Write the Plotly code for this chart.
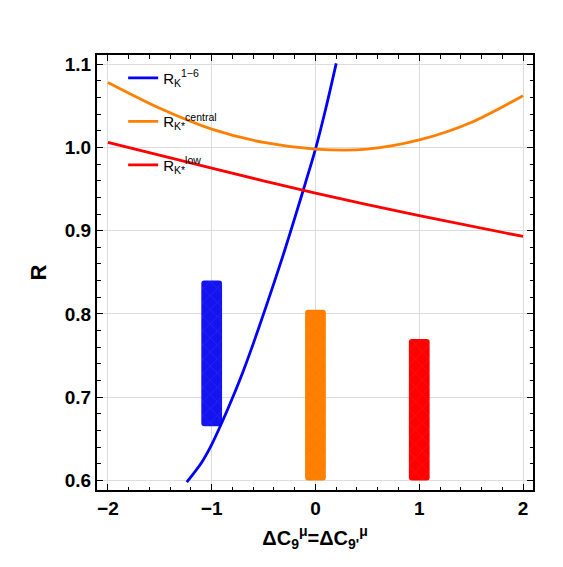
import plotly.graph_objects as go

# ---- data ----
blue_x = [-1.24, -1.1, -1.0, -0.9, -0.8, -0.7, -0.6, -0.5, -0.4, -0.3, -0.2, -0.1, 0.0, 0.1, 0.2]
blue_y = [0.598, 0.621, 0.643, 0.670, 0.699, 0.730, 0.764, 0.800, 0.837, 0.875, 0.915, 0.956, 0.998, 1.047, 1.101]

orange_x = [-2.0, -1.5, -1.0, -0.5, 0.0, 0.5, 1.0, 1.5, 2.0]
orange_y = [1.078, 1.047, 1.022, 1.006, 0.998, 0.998, 1.009, 1.030, 1.062]

red_x = [-2.0, -1.0, 0.0, 1.0, 2.0]
red_y = [1.006, 0.975, 0.945, 0.918, 0.893]

bar_x = [-1.0, 0.0, 1.0]
bar_low = [0.665, 0.600, 0.600]
bar_high = [0.840, 0.805, 0.770]
bar_colors = ["#1414f0", "#ff8000", "#ff0000"]

names = ["R<sub>K</sub><sup>1−6</sup>",
         "R<sub>K*</sub><sup>central</sup>",
         "R<sub>K*</sub><sup>low</sup>"]
line_colors = ["#0000ff", "#ff8000", "#ff0000"]

fig = go.Figure()

fig.add_trace(go.Bar(
    x=bar_x,
    y=[h - l for h, l in zip(bar_high, bar_low)],
    base=bar_low,
    width=0.2,
    marker=dict(color=bar_colors, line=dict(width=0),
                pattern=dict(shape="x", fgcolor="white", fgopacity=0.18, size=10, solidity=0.06)),
    showlegend=False,
    hoverinfo="skip",
))

for i, (xs, ys) in enumerate([(blue_x, blue_y), (orange_x, orange_y), (red_x, red_y)]):
    fig.add_trace(go.Scatter(
        x=xs, y=ys, mode="lines",
        line=dict(color=line_colors[i], width=2.8, shape="spline", smoothing=0.8),
        name=names[i], legendgroup=f"g{i}",
    ))

font_family = "Liberation Sans, Arial, sans-serif"

fig.update_layout(
    width=563, height=567,
    margin=dict(l=97, r=30, t=55, b=77),
    paper_bgcolor="white", plot_bgcolor="white",
    font=dict(family=font_family, color="black"),
    barcornerradius=3,
    showlegend=True,
    legend=dict(
        x=0.06, y=0.985, xanchor="left", yanchor="top",
        bgcolor="rgba(0,0,0,0)", borderwidth=0,
        font=dict(size=15, family=font_family, color="black"),
        tracegroupgap=21,
    ),
)

fig.update_xaxes(
    range=[-2.105, 2.096],
    tickmode="array", tickvals=[-2, -1, 0, 1, 2],
    ticks="inside", ticklen=6, tickwidth=1, tickcolor="black",
    tickfont=dict(size=19, family=font_family, color="black", weight="bold"),
    showline=True, linecolor="black", linewidth=2, mirror="ticks",
    showgrid=True, gridcolor="#dcdcdc", gridwidth=1,
    zeroline=False,
    minor=dict(dtick=0.2, tick0=0, ticks="inside", ticklen=3.5, tickwidth=1, tickcolor="black", showgrid=False),
    title=dict(text="ΔC<sub>9</sub><sup>μ</sup>=ΔC<sub>9'</sub><sup>μ</sup>",
               font=dict(size=20, family=font_family, color="black", weight="bold"),
               standoff=13),
)

fig.update_yaxes(
    range=[0.5885, 1.111],
    tickmode="array", tickvals=[0.6, 0.7, 0.8, 0.9, 1.0, 1.1],
    tickformat=".1f",
    ticks="inside", ticklen=6, tickwidth=1, tickcolor="black",
    tickfont=dict(size=19, family=font_family, color="black", weight="bold"),
    showline=True, linecolor="black", linewidth=2, mirror="ticks",
    showgrid=True, gridcolor="#dcdcdc", gridwidth=1,
    zeroline=False,
    minor=dict(dtick=0.02, tick0=0.6, ticks="inside", ticklen=3.5, tickwidth=1, tickcolor="black", showgrid=False),
    title=dict(text="R", font=dict(size=22, family=font_family, color="black", weight="bold"),
               standoff=12),
)

fig.write_html("out.html")
